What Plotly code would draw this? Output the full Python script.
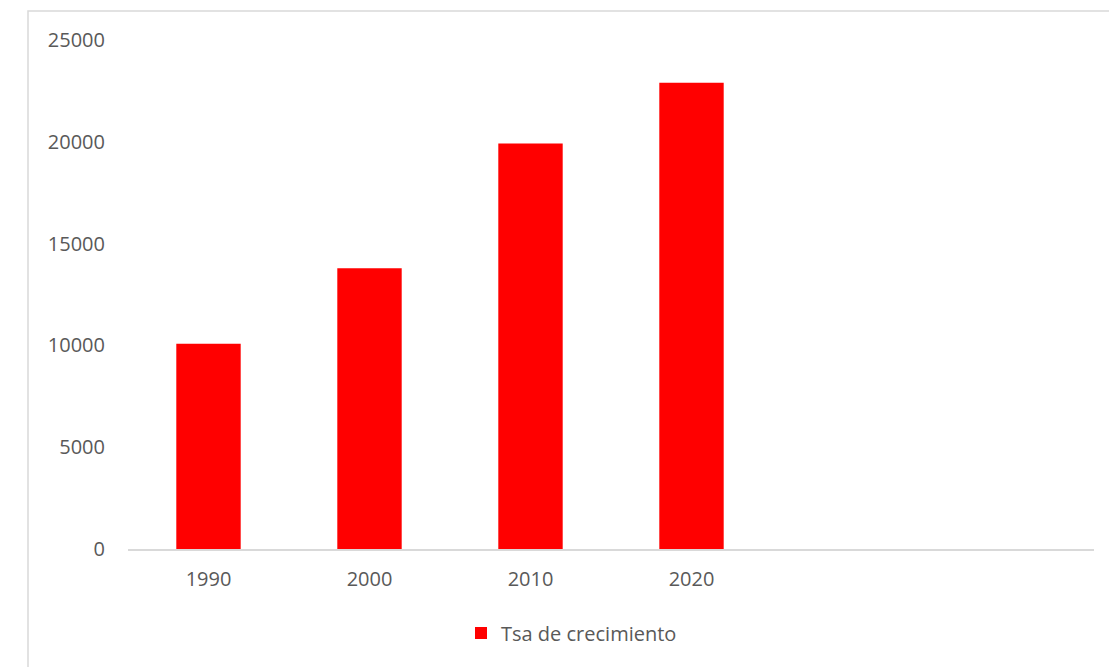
import plotly.graph_objects as go

# Data
years = ["1990", "2000", "2010", "2020"]
values = [10080, 13790, 19920, 22900]
series_name = "Tsa de crecimiento"
y_ticks = [0, 5000, 10000, 15000, 20000, 25000]

W, H = 1109, 667
L, R, T, B = 128, 15, 40, 118
pw = W - L - R
ph = H - T - B

font_family = "Open Sans, Liberation Sans, sans-serif"
text_color = "#595959"
line_color = "#d9d9d9"
fsize = 20

fig = go.Figure(
    go.Bar(
        x=years,
        y=values,
        name=series_name,
        marker=dict(color="#ff0000", line=dict(width=0)),
        showlegend=True,
    )
)

# chart-area frame (left and top edges visible in the window)
fx0 = (28 - L) / pw
fy1 = (H - B - 11) / ph
fig.add_shape(
    type="rect", xref="paper", yref="paper",
    x0=fx0, x1=1.3, y0=-0.4, y1=fy1,
    line=dict(color=line_color, width=1.5), fillcolor="rgba(0,0,0,0)",
    layer="below",
)

fig.update_layout(
    width=W, height=H,
    margin=dict(l=L, r=R, t=T, b=B, pad=0),
    paper_bgcolor="white", plot_bgcolor="white",
    font=dict(family=font_family, size=fsize, color=text_color),
    bargap=0.6,
    showlegend=True,
    legend=dict(
        orientation="h",
        x=(461 - L) / pw, xanchor="left",
        y=(H - B - 633) / ph, yanchor="middle",
        font=dict(size=fsize, color=text_color),
        itemwidth=30,
    ),
    xaxis=dict(
        type="category",
        categoryorder="array",
        categoryarray=years,
        range=[-0.5, 5.5],
        showline=True, linecolor=line_color, linewidth=1.5,
        showgrid=False, zeroline=False,
        ticks="", ticklabelstandoff=11,
        tickfont=dict(size=fsize, color=text_color),
    ),
    yaxis=dict(
        range=[0, 25000],
        tickvals=y_ticks,
        ticktext=[str(v) for v in y_ticks],
        showgrid=False, zeroline=False, showline=False,
        ticks="", ticklabelstandoff=22,
        tickfont=dict(size=fsize, color=text_color),
    ),
)

fig.write_html("out.html")
